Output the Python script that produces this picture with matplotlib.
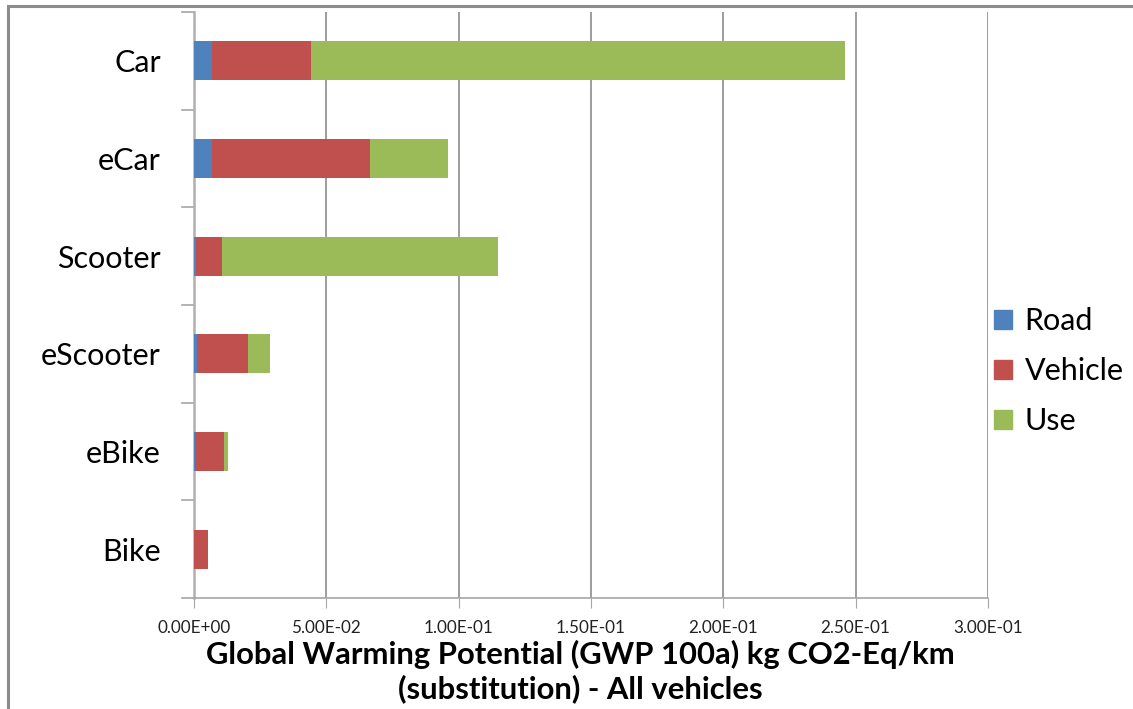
import matplotlib.pyplot as plt
import numpy as np
from matplotlib.patches import Patch, Rectangle

# GWP per km split into road, vehicle and use phase
vehicles = ["Car", "eCar", "Scooter", "eScooter", "eBike", "Bike"]
road = [0.0068, 0.0068, 0.0006, 0.0011, 0.0002, 0.0]
vehicle = [0.0375, 0.0596, 0.0099, 0.0193, 0.0111, 0.0053]
use = [0.2017, 0.0295, 0.1042, 0.0082, 0.0015, 0.0]

series_names = ["Road", "Vehicle", "Use"]
colors = ["#4F81BD", "#C0504D", "#9BBB59"]
xticks = [0.0, 0.05, 0.10, 0.15, 0.20, 0.25, 0.30]

plt.rcParams['font.family'] = ['Lato', 'DejaVu Sans']

fig = plt.figure(figsize=(11.33, 7.09), dpi=100)
ax = fig.add_axes([194 / 1133, 1 - 598 / 709, (988 - 194) / 1133, (598 - 12) / 709])

# outer chart frame
fig.patches.append(Rectangle((8 / 1133, -0.1), 1.2, 1 - 6 / 709 + 0.1, transform=fig.transFigure,
                             fill=False, edgecolor="#8c8c8c", linewidth=2.2, zorder=0))

y = np.arange(len(vehicles))[::-1]
left = np.zeros(len(vehicles))
for name, vals, c in zip(series_names, [road, vehicle, use], colors):
    ax.barh(y, vals, left=left, height=0.4, color=c, label=name, zorder=3)
    left += np.array(vals)

ax.set_xlim(0, 0.30)
ax.set_ylim(-0.5, len(vehicles) - 0.5)
ax.set_xticks(xticks)
ax.set_xticklabels([f"{v:.2E}" for v in xticks], fontsize=12.3, color="#222222")
ax.set_yticks(y)
ax.set_yticklabels(vehicles, fontsize=22)
ax.tick_params(axis="y", length=0, pad=24)
ax.tick_params(axis="x", length=7, color="#a6a6a6", pad=9)

# category boundary ticks on the left axis
for b in np.arange(-0.5, len(vehicles), 1.0):
    ax.plot([-0.0046, 0], [b, b], color="#a6a6a6", lw=1.2, clip_on=False)

ax.grid(axis="x", color="#8c8c8c", lw=1.2, zorder=0)
for s in ["top", "right"]:
    ax.spines[s].set_visible(False)
ax.spines["left"].set_color("#b0b0b0")
ax.spines["left"].set_linewidth(1.8)
ax.spines["bottom"].set_color("#a6a6a6")
ax.spines["bottom"].set_linewidth(1.2)

ax.set_xlabel("Global Warming Potential (GWP 100a) kg CO2-Eq/km\n(substitution) - All vehicles",
              fontsize=22.3, fontweight="bold", labelpad=3, linespacing=1.2)
ax.xaxis.label.set_x(0.486)

handles = [Patch(color=c) for c in colors]
fig.legend(handles, series_names, loc="center left", bbox_to_anchor=(994 / 1133, 1 - 371 / 709),
           frameon=False, fontsize=22, handlelength=0.6, handleheight=0.6, borderpad=0,
           borderaxespad=0, handletextpad=0.4, labelspacing=0.72)

fig.savefig("out.png", dpi=100)
